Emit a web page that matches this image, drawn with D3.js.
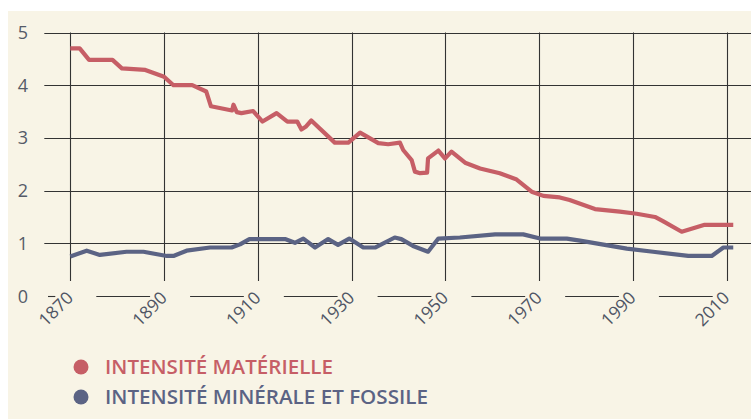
<!DOCTYPE html>
<html><head><meta charset="utf-8">
<script src="https://cdn.jsdelivr.net/npm/d3@7"></script>
<style>
html,body{margin:0;padding:0;background:#fff;}
svg{display:block;}
</style></head>
<body>
<svg id="c" width="751" height="419"></svg>
<script>
const xTicks = [1870, 1890, 1910, 1930, 1950, 1970, 1990, 2010];
const yTicks = [0, 1, 2, 3, 4, 5];
const seriesNames = ["INTENSITÉ MATÉRIELLE", "INTENSITÉ MINÉRALE ET FOSSILE"];
const matYears = [1870,1872,1874,1879,1881,1886,1890,1892,1896,1899,1900,1904.5,1904.8,1905.5,1906.5,1909,1911,1914,1916.3,1918.4,1919.3,1920.2,1921.4,1926.4,1929.3,1931.8,1935.7,1937.8,1940.3,1941,1942.8,1943.5,1944.6,1946.1,1946.3,1948.5,1949.9,1951.3,1954.2,1957.4,1961.6,1965.2,1966.6,1968.4,1970.9,1974.4,1976.5,1981.9,1987.2,1990.8,1994.7,1996.4,2000.4,2005.3,2011.4];
const matValues = [4.7,4.7,4.48,4.48,4.32,4.29,4.16,4.0,4.0,3.88,3.6,3.52,3.63,3.49,3.47,3.51,3.31,3.47,3.31,3.31,3.16,3.21,3.33,2.91,2.91,3.1,2.9,2.88,2.91,2.77,2.58,2.36,2.33,2.34,2.61,2.76,2.61,2.74,2.53,2.42,2.33,2.21,2.11,1.98,1.9,1.87,1.82,1.65,1.6,1.56,1.5,1.42,1.22,1.35,1.35];
const minYears = [1870,1873.5,1876.3,1882,1885.6,1890.6,1892,1894.8,1899.8,1904.4,1906.2,1908.2,1915.8,1917.9,1919.7,1922.2,1925,1927.1,1929.5,1932.5,1935,1939.2,1940.6,1943.1,1946.3,1948.5,1953.1,1960.6,1966.6,1970.2,1975.9,1978.7,1988.7,1994.3,2001.8,2006.8,2009.3,2011.4];
const minValues = [0.75,0.86,0.78,0.84,0.84,0.76,0.76,0.86,0.92,0.92,0.98,1.08,1.08,1.01,1.09,0.92,1.08,0.97,1.09,0.92,0.92,1.11,1.08,0.95,0.84,1.09,1.11,1.17,1.17,1.09,1.09,1.05,0.9,0.84,0.76,0.76,0.92,0.92];

const colors = ["#C65E66", "#5B6384"];
const bg = "#F8F4E6";
const svg = d3.select("#c");

svg.append("rect").attr("x", 8).attr("y", 11).attr("width", 743).attr("height", 408).attr("fill", bg);

const x = d3.scaleLinear().domain([1870, 2010]).range([70.3, 726.7]);
const y = d3.scaleLinear().domain([0, 5]).range([296, 32.5]);

const grid = svg.append("g").attr("stroke", "#333").attr("stroke-width", 1.1).attr("fill", "none");
grid.selectAll("line.h").data(yTicks.filter(d => d > 0)).join("line")
  .attr("x1", 44.3).attr("x2", 751)
  .attr("y1", d => Math.round(y(d)) + 0.5).attr("y2", d => Math.round(y(d)) + 0.5);
grid.selectAll("line.v").data(xTicks).join("line")
  .attr("x1", d => Math.round(x(d)) + 0.5).attr("x2", d => Math.round(x(d)) + 0.5)
  .attr("y1", y(5)).attr("y2", 281);
const segs = [[48, x(xTicks[0]) - 15]];
for (let i = 0; i < xTicks.length - 1; i++) segs.push([x(xTicks[i]) + 26, x(xTicks[i + 1]) - 14]);
grid.selectAll("line.z").data(segs).join("line")
  .attr("x1", d => d[0]).attr("x2", d => d[1])
  .attr("y1", Math.round(y(0)) + 0.5).attr("y2", Math.round(y(0)) + 0.5);

svg.append("g").selectAll("text").data(yTicks).join("text")
  .attr("x", 23).attr("y", d => y(d) + 6.5)
  .attr("text-anchor", "middle")
  .attr("font-family", "Open Sans, sans-serif").attr("font-size", 18)
  .attr("fill", "#555b68").text(d => d);

svg.append("g").selectAll("text").data(xTicks).join("text")
  .attr("transform", d => `translate(${x(d) + 4},${y(0) + 3}) rotate(-45)`)
  .attr("text-anchor", "end")
  .attr("font-family", "Open Sans, sans-serif").attr("font-size", 17.5)
  .attr("fill", "#4f5564").text(d => d);

const line = d3.line().x(d => x(d[0])).y(d => y(d[1]));
const series = [
  d3.zip(matYears, matValues),
  d3.zip(minYears, minValues)
];
svg.append("g").selectAll("path").data(series).join("path")
  .attr("d", line).attr("fill", "none")
  .attr("stroke", (d, i) => colors[i]).attr("stroke-width", 4.2)
  .attr("stroke-linejoin", "round");

const legendY = [367, 397];
const targetW = [228, 323];
const lg = svg.append("g").selectAll("g").data(seriesNames).join("g");
lg.append("circle").attr("cx", 81).attr("cy", (d, i) => legendY[i]).attr("r", 7.5)
  .attr("fill", (d, i) => colors[i]);
lg.append("text").attr("x", 105).attr("y", (d, i) => legendY[i] + 7)
  .attr("font-family", "Open Sans, sans-serif").attr("font-weight", 600).attr("font-size", 19.5)
  .attr("fill", (d, i) => colors[i]).text(d => d)
  .attr("textLength", (d, i) => targetW[i]).attr("lengthAdjust", "spacingAndGlyphs");
</script>
</body></html>
